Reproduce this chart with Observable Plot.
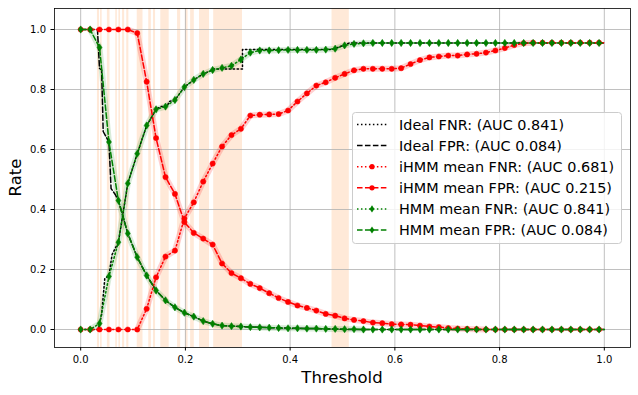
<!DOCTYPE html>
<html><head><meta charset="utf-8">
<script src="https://cdn.jsdelivr.net/npm/d3@7"></script>
<script src="https://cdn.jsdelivr.net/npm/@observablehq/plot@0.6"></script>
<style>body{margin:0;background:#fff}</style>
</head><body><div id="chart"></div>
<script>
// ---- data ----
const thresholds = [0,0.018,0.036,0.054,0.072,0.09,0.108,0.126,0.144,0.162,
  0.18,0.198,0.216,0.234,0.252,0.27,0.288,0.306,0.324,0.342,
  0.36,0.378,0.396,0.414,0.432,0.45,0.468,0.486,0.504,0.522,
  0.54,0.558,0.576,0.594,0.612,0.63,0.648,0.666,0.684,0.702,
  0.72,0.738,0.756,0.774,0.792,0.81,0.828,0.846,0.864,0.882,
  0.9,0.918,0.936,0.954,0.972,0.99,1.0];
const ihmmFnr = [0,0,0,0,0,0,0,0.069,0.174,0.243,
  0.263,0.37,0.424,0.493,0.553,0.61,0.648,0.669,0.713,0.716,
  0.717,0.718,0.73,0.76,0.787,0.813,0.824,0.839,0.852,0.864,
  0.869,0.869,0.869,0.869,0.871,0.885,0.898,0.907,0.91,0.913,
  0.913,0.917,0.919,0.923,0.93,0.938,0.948,0.954,0.956,0.956,
  0.956,0.956,0.956,0.956,0.956,0.956,0.956];
const ihmmFpr = [1,1,1,1,1,1,0.988,0.826,0.638,0.508,
  0.452,0.358,0.322,0.303,0.283,0.22,0.188,0.171,0.152,0.138,
  0.121,0.105,0.092,0.08,0.072,0.063,0.052,0.046,0.037,0.032,
  0.028,0.023,0.021,0.018,0.017,0.016,0.013,0.01,0.008,0.005,
  0.003,0.002,0.001,0,0,0,0,0,0,0,
  0,0,0,0,0,0,0];
const hmmFnr = [0,0,0.02,0.177,0.291,0.487,0.586,0.68,0.734,0.743,
  0.765,0.808,0.832,0.852,0.865,0.872,0.879,0.9,0.923,0.93,
  0.93,0.931,0.932,0.932,0.932,0.932,0.933,0.936,0.947,0.952,
  0.954,0.955,0.955,0.955,0.955,0.955,0.955,0.955,0.955,0.955,
  0.955,0.955,0.955,0.955,0.955,0.955,0.955,0.955,0.955,0.955,
  0.955,0.955,0.955,0.955,0.955,0.955,0.955];
const hmmFpr = [1,1,0.94,0.625,0.43,0.32,0.241,0.18,0.13,0.097,
  0.074,0.056,0.043,0.028,0.019,0.013,0.011,0.01,0.008,0.007,
  0.006,0.005,0.004,0.004,0.003,0.003,0.002,0.002,0.001,0.001,
  0,0,0,0,0,0,0,0,0,0,
  0,0,0,0,0,0,0,0,0,0,
  0,0,0,0,0,0,0];
const idealFnrT = [0,0.034,0.036,0.040,0.046,0.054,0.060,0.072,0.090,0.108,0.126,0.144,0.153,0.165,0.169,0.180,0.198,0.216,0.234,0.252,0.254,0.309,0.309,0.48,0.513,1.0];
const idealFnrV = [0,0,0.02,0.05,0.17,0.18,0.25,0.291,0.487,0.586,0.68,0.734,0.743,0.743,0.76,0.765,0.808,0.832,0.852,0.865,0.868,0.868,0.933,0.933,0.955,0.955];
const idealFprT = [0,0.032,0.036,0.040,0.043,0.054,0.058,0.066,0.072,0.090,0.108,0.126,0.144,0.162,0.180,0.198,0.216,0.234,0.252,0.270,0.306,0.360,0.450,0.513,1.0];
const idealFprV = [1,1,0.87,0.865,0.66,0.625,0.47,0.45,0.43,0.32,0.241,0.18,0.13,0.097,0.074,0.056,0.043,0.028,0.019,0.013,0.01,0.006,0.003,0,0];
const bandStart = [0.032,0.038,0.051,0.067,0.073,0.080,0.088,0.108,0.130,0.139,0.153,0.185,0.200,0.210,0.227,0.254,0.480];
const bandEnd   = [0.036,0.041,0.056,0.070,0.076,0.084,0.092,0.119,0.135,0.143,0.169,0.191,0.205,0.217,0.246,0.309,0.513];
const xTicks = [0,0.2,0.4,0.6,0.8,1.0];
const yTicks = [0,0.2,0.4,0.6,0.8,1.0];
const legendLabels = ["Ideal FNR: (AUC 0.841)","Ideal FPR: (AUC 0.084)","iHMM mean FNR: (AUC 0.681)","iHMM mean FPR: (AUC 0.215)","HMM mean FNR: (AUC 0.841)","HMM mean FPR: (AUC 0.084)"];

// ---- build ----
const RED = "#ff0000", GREEN = "#008000";
const DOT = "1.5,2.475", DASH = "5.55,2.4";
const mk = (xs, ys) => xs.map((x, i) => ({x, y: ys[i], i}));
const dIF = mk(thresholds, ihmmFnr), dIP = mk(thresholds, ihmmFpr);
const dHF = mk(thresholds, hmmFnr), dHP = mk(thresholds, hmmFpr);
const dXF = mk(idealFnrT, idealFnrV), dXP = mk(idealFprT, idealFprV);
const bands = bandStart.map((a, i) => ({a, b: bandEnd[i]}));
const thinDiamond = {draw(ctx, size) {
  const r = Math.sqrt(size / Math.PI), h = r * 1.1, w = r * 0.75;
  ctx.moveTo(0, -h); ctx.lineTo(w, 0); ctx.lineTo(0, h); ctx.lineTo(-w, 0); ctx.closePath();
}};
const halo = (d, c, lo, hi, op) => Plot.line(d, {x: "x", y: "y", filter: p => p.i >= lo && p.i <= hi,
  stroke: c, strokeOpacity: op, strokeWidth: 6, strokeLinejoin: "round", strokeLinecap: "round"});
const ln = (d, c, dash) => Plot.line(d, {x: "x", y: "y", stroke: c, strokeWidth: 1.5, strokeDasharray: dash});
const dots = (d, c, sym, r) => Plot.dot(d, {x: "x", y: "y", filter: p => p.i < 56, fill: c, stroke: c, strokeWidth: 0.5, symbol: sym, r});

const plot = Plot.plot({
  width: 638, height: 395, marginLeft: 54, marginRight: 8, marginTop: 8, marginBottom: 48,
  x: {domain: [-0.05, 1.05], label: null},
  y: {domain: [-0.06, 1.07], label: null},
  style: {fontFamily: "DejaVu Sans", fontSize: "10px", background: "white", color: "black"},
  marks: [
    Plot.rect(bands, {x1: "a", x2: "b", fill: "#ffe9d8"}),
    Plot.gridX(xTicks, {stroke: "#b0b0b0", strokeOpacity: 1, strokeWidth: 0.8}),
    Plot.gridY(yTicks, {stroke: "#b0b0b0", strokeOpacity: 1, strokeWidth: 0.8}),
    halo(dIF, RED, 6, 48, 0.18), halo(dIP, RED, 5, 43, 0.18), halo(dHF, GREEN, 1, 31, 0.15), halo(dHP, GREEN, 1, 30, 0.15),
    ln(dXF, "black", DOT), ln(dXP, "black", DASH),
    ln(dIF, RED, DOT), dots(dIF, RED, "circle", 2.6),
    ln(dIP, RED, DASH), dots(dIP, RED, "circle", 2.6),
    ln(dHF, GREEN, DOT), dots(dHF, GREEN, thinDiamond, 3.3),
    ln(dHP, GREEN, DASH), dots(dHP, GREEN, thinDiamond, 3.3),
    Plot.axisX(xTicks, {tickSize: 3.5, tickPadding: 5, tickFormat: d3.format(".1f"), fontSize: 10, label: null}),
    Plot.axisY(yTicks, {tickSize: 3.5, tickPadding: 5, tickFormat: d3.format(".1f"), fontSize: 10, label: null}),
    Plot.frame({stroke: "black", strokeWidth: 0.8})
  ]
});

const svg = d3.select(plot);
svg.append("text").attr("x", 342).attr("y", 383).attr("text-anchor", "middle")
  .attr("font-size", 16.5).attr("fill", "black").text("Threshold");
svg.append("text").attr("transform", "translate(21,177.5) rotate(-90)").attr("text-anchor", "middle")
  .attr("font-size", 16.5).attr("fill", "black").text("Rate");

const lg = svg.append("g").attr("text-anchor", "start");
lg.append("rect").attr("x", 352.5).attr("y", 112.5).attr("width", 269).attr("height", 131).attr("rx", 3)
  .attr("fill", "white").attr("fill-opacity", 0.8).attr("stroke", "#cccccc").attr("stroke-width", 1);
const styles = [["black", DOT, null], ["black", DASH, null], [RED, DOT, "c"], [RED, DASH, "c"], [GREEN, DOT, "d"], [GREEN, DASH, "d"]];
styles.forEach(([c, dash, m], k) => {
  const cy = 124.5 + k * 21.1;
  lg.append("line").attr("x1", 357).attr("x2", 387).attr("y1", cy).attr("y2", cy)
    .attr("stroke", c).attr("stroke-width", 1.5).attr("stroke-dasharray", dash);
  if (m === "c") lg.append("circle").attr("cx", 372).attr("cy", cy).attr("r", 2.6).attr("fill", c);
  if (m === "d") lg.append("path").attr("d", `M372,${cy-3.6}L374.4,${cy}L372,${cy+3.6}L369.6,${cy}Z`).attr("fill", c);
  lg.append("text").attr("x", 399).attr("y", cy).attr("dy", "0.36em").attr("font-size", 14.4)
    .attr("text-anchor", "start").attr("fill", "black").text(legendLabels[k]);
});

document.getElementById("chart").appendChild(plot);
</script>
</body></html>
